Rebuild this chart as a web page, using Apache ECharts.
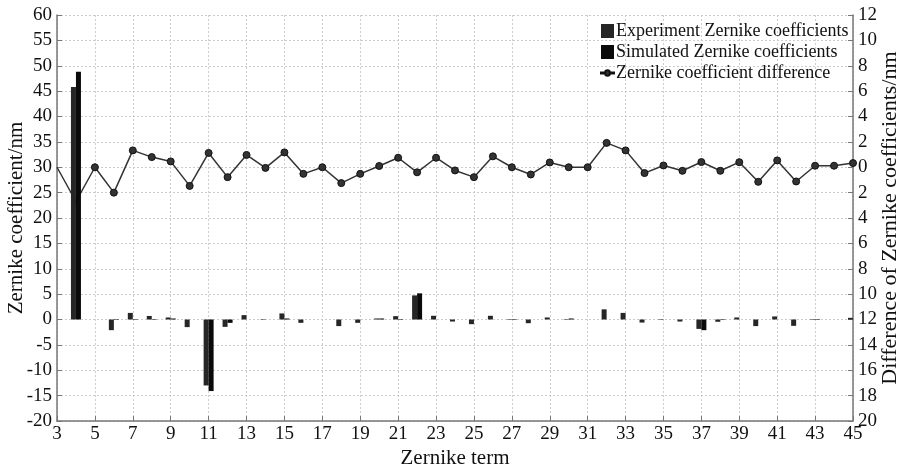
<!DOCTYPE html>
<html>
<head>
<meta charset="utf-8">
<script src="https://cdn.jsdelivr.net/npm/echarts@6/dist/echarts.min.js"></script>
<style>
  html, body { margin: 0; padding: 0; background: #fff; }
  #chart { width: 901px; height: 466px; }
</style>
</head>
<body>
<div id="chart"></div>
<script>
// Zernike terms 3..45
const terms = [3, 4, 5, 6, 7, 8, 9, 10, 11, 12, 13, 14, 15, 16, 17, 18, 19, 20, 21, 22, 23, 24,
  25, 26, 27, 28, 29, 30, 31, 32, 33, 34, 35, 36, 37, 38, 39, 40, 41, 42, 43, 44, 45];
const experimentCoef = [0, 45.8, 0, -2.1, 1.3, 0.7, 0.4, -1.5, -13.0, -1.45, 0.86, -0.1, 1.2, -0.66, 0,
  -1.3, -0.66, 0.2, 0.66, 4.75, 0.73, -0.4, -0.92, 0.73, 0.1, -0.73, 0.4, 0.1, 0, 2.0, 1.3,
  -0.6, 0.1, -0.4, -1.85, -0.45, 0.4, -1.3, 0.6, -1.25, 0.1, 0, 0.33];
const simulatedCoef = [0, 48.8, 0, -0.1, -0.1, 0.1, 0.2, 0, -14.1, -0.66, 0, 0, 0.2, 0, 0,
  0, 0, 0.2, 0.1, 5.15, 0, 0, 0, 0, 0.1, 0, 0, 0.2, 0, 0, 0,
  0, 0, 0, -2.1, -0.1, 0, 0, 0, 0, 0.1, 0, 0];
const coefDifference = [0, -2.7, 0, -2.0, 1.33, 0.8, 0.46, -1.47, 1.13, -0.78, 0.97, -0.05, 1.17, -0.52, 0,
  -1.25, -0.52, 0.1, 0.75, -0.4, 0.75, -0.25, -0.78, 0.86, 0, -0.57, 0.38, 0, 0, 1.92, 1.33,
  -0.46, 0.14, -0.28, 0.41, -0.28, 0.4, -1.15, 0.54, -1.12, 0.12, 0.12, 0.33];

const chart = echarts.init(document.getElementById("chart"));
const font = "Liberation Serif";
// legend icon: short line with a dot
const lineDotIcon = "path://M0,3h4.5a2.5,2.5 0 0,1 5,0h4.5v1h-4.5a2.5,2.5 0 0,1 -5,0h-4.5z";

const option = {
  backgroundColor: "#fff",
  animation: false,
  grid: { left: 57, right: 48, top: 15, bottom: 45, containLabel: false, outerBoundsMode: "none" },
  legend: {
    left: 595,
    top: 17,
    orient: "vertical",
    itemGap: 3,
    itemWidth: 13,
    itemHeight: 14,
    textStyle: { fontFamily: font, fontSize: 18, color: "#111", padding: [0, 0, 0, -3] },
    data: [
      { name: "Experiment Zernike coefficients", icon: "rect" },
      { name: "Simulated Zernike coefficients", icon: "rect" },
      { name: "Zernike coefficient difference", icon: lineDotIcon }
    ]
  },
  xAxis: {
    type: "value",
    min: 3,
    max: 45,
    interval: 2,
    name: "Zernike term",
    nameLocation: "middle",
    nameGap: 27,
    nameMoveOverlap: false,
    nameTextStyle: { fontFamily: font, fontSize: 21, color: "#111" },
    axisLine: { onZero: false, lineStyle: { color: "#777", width: 1.5 } },
    axisTick: { inside: true, length: 5, lineStyle: { color: "#777" } },
    axisLabel: { fontFamily: font, fontSize: 19, color: "#111", margin: 4 },
    splitLine: { show: true, lineStyle: { color: "#ccc", type: [2, 2] } }
  },
  yAxis: [
    {
      type: "value",
      min: -20,
      max: 60,
      interval: 5,
      name: "Zernike coefficient/nm",
      nameLocation: "middle",
      nameGap: 30,
      nameMoveOverlap: false,
      nameTextStyle: { fontFamily: font, fontSize: 21, color: "#111" },
      axisLine: { show: true, onZero: false, lineStyle: { color: "#777", width: 1.5 } },
      axisTick: { show: true, inside: true, length: 5, lineStyle: { color: "#777" } },
      axisLabel: { fontFamily: font, fontSize: 19, color: "#111", margin: 5 },
      splitLine: { show: true, lineStyle: { color: "#ccc", type: [2, 2] } }
    },
    {
      type: "value",
      min: -20,
      max: 12,
      interval: 2,
      position: "right",
      name: "Difference of Zernike coefficients/nm",
      nameLocation: "middle",
      nameGap: 26,
      nameRotate: 90,
      nameMoveOverlap: false,
      nameTextStyle: { fontFamily: font, fontSize: 22, color: "#111" },
      axisLine: { show: true, onZero: false, lineStyle: { color: "#777", width: 1.5 } },
      axisTick: { show: true, inside: true, length: 5, lineStyle: { color: "#777" } },
      axisLabel: {
        fontFamily: font, fontSize: 19, color: "#111", margin: 5,
        formatter: (v) => String(Math.abs(v))
      },
      splitLine: { show: false }
    }
  ],
  series: [
    {
      name: "Zernike coefficient difference",
      type: "line",
      yAxisIndex: 1,
      z: 1,
      symbol: "circle",
      symbolSize: 7,
      itemStyle: { color: "#333", borderColor: "#111", borderWidth: 1 },
      lineStyle: { color: "#333", width: 1.5 },
      data: terms.map((t, i) => i === 0
        ? { value: [t, coefDifference[i]], symbolSize: 0 }
        : [t, coefDifference[i]])
    },
    {
      name: "Experiment Zernike coefficients",
      type: "bar",
      z: 3,
      barWidth: 5,
      barGap: "0%",
      itemStyle: { color: "#262626" },
      data: terms.map((t, i) => [t, experimentCoef[i]])
    },
    {
      name: "Simulated Zernike coefficients",
      type: "bar",
      z: 3,
      barWidth: 5,
      barGap: "0%",
      itemStyle: { color: "#0a0a0a" },
      data: terms.map((t, i) => [t, simulatedCoef[i]])
    }
  ]
};

chart.setOption(option);
</script>
</body>
</html>
